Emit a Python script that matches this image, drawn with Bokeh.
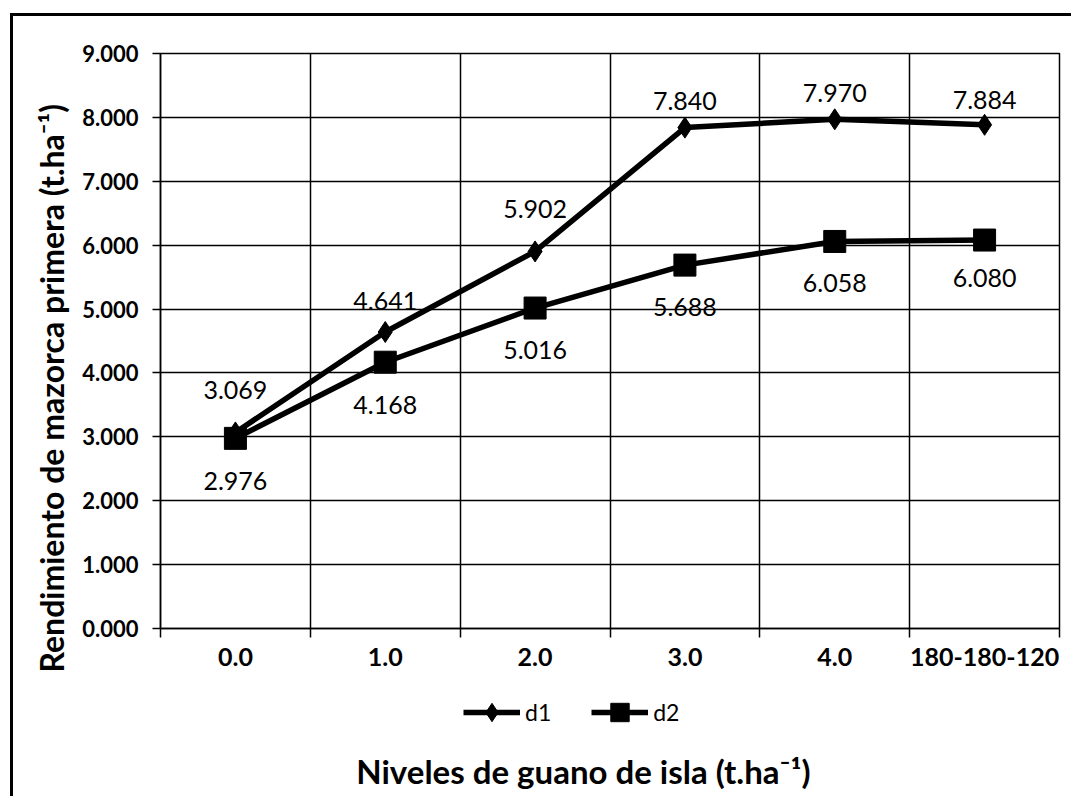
import numpy as np
from bokeh.plotting import figure
from bokeh.layouts import column
from bokeh.models import (FixedTicker, LinearAxis, Range1d, ColumnDataSource, LabelSet, Label,
                          Legend, LegendItem, NumeralTickFormatter, Grid, Title)
from bokeh.core.properties import value
from bokeh.embed import file_html
from bokeh.resources import INLINE

# ---- data ----
categories = ["0.0", "1.0", "2.0", "3.0", "4.0", "180-180-120"]
d1 = [3.069, 4.641, 5.902, 7.840, 7.970, 7.884]
d2 = [2.976, 4.168, 5.016, 5.688, 6.058, 6.080]
d1_labels = ["3.069", "4.641", "5.902", "7.840", "7.970", "7.884"]
d2_labels = ["2.976", "4.168", "5.016", "5.688", "6.058", "6.080"]
series_names = ["d1", "d2"]
y_ticks = [0, 1, 2, 3, 4, 5, 6, 7, 8, 9]
x_title = "Niveles de guano de isla (t.ha\u207b\u00b9)"
y_title = "Rendimiento de mazorca primera (t.ha\u207b\u00b9)"

# label placement (screen px offsets, styling only)
d1_dy = [42, 31, 42, 27, 26, 25]
d2_dy = [-43, -43, -42, -42, -42, -38]

n = len(categories)
xc = [i + 0.5 for i in range(n)]
bounds = list(range(n + 1))

FONT = "Lato"
W = 1058

p = figure(width=W, height=664, x_range=Range1d(0, n), y_range=Range1d(0, 9),
           output_backend="svg", toolbar_location=None,
           x_axis_type=None, y_axis_type=None,
           min_border_left=147, min_border_right=12, min_border_top=37, min_border_bottom=52)
p.outline_line_color = "black"
p.outline_line_width = 1.5
p.background_fill_color = "white"
p.border_fill_color = "white"

# grids
p.add_layout(Grid(dimension=0, ticker=FixedTicker(ticks=bounds), grid_line_color="black", grid_line_width=1.5))
p.add_layout(Grid(dimension=1, ticker=FixedTicker(ticks=y_ticks), grid_line_color="black", grid_line_width=1.5))

# y axis
yaxis = LinearAxis(ticker=FixedTicker(ticks=y_ticks), formatter=NumeralTickFormatter(format="0.000"))
yaxis.major_label_text_font = FONT
yaxis.major_label_text_font_size = "22px"
yaxis.major_label_text_font_style = "bold"
yaxis.major_label_text_color = "black"
yaxis.major_tick_out = 8
yaxis.major_tick_in = 0
yaxis.major_tick_line_width = 1.5
yaxis.minor_tick_line_color = None
yaxis.axis_line_width = 1.5
yaxis.major_label_standoff = 14
p.add_layout(yaxis, "left")

# x axis
xaxis = LinearAxis(ticker=FixedTicker(ticks=xc, minor_ticks=bounds),
                   major_label_overrides={xc[i]: categories[i] for i in range(n)})
xaxis.major_label_text_font = FONT
xaxis.major_label_text_font_size = "25px"
xaxis.major_label_text_font_style = "bold"
xaxis.major_label_text_color = "black"
xaxis.major_tick_line_color = None
xaxis.major_tick_out = 0
xaxis.major_tick_in = 0
xaxis.minor_tick_out = 9
xaxis.minor_tick_in = 0
xaxis.minor_tick_line_width = 1.5
xaxis.minor_tick_line_color = "black"
xaxis.axis_line_width = 1.5
xaxis.major_label_standoff = 10
p.add_layout(xaxis, "below")

# series
p.line(xc, d1, line_width=5.5, color="black")
p.scatter(xc, d1, marker="diamond", size=21, color="black")
p.line(xc, d2, line_width=5.5, color="black")
p.scatter(xc, d2, marker="square", size=22, color="black")

# data labels
src1 = ColumnDataSource(dict(x=xc, y=d1, t=d1_labels, dy=d1_dy))
src2 = ColumnDataSource(dict(x=xc, y=d2, t=d2_labels, dy=d2_dy))
for src in (src1, src2):
    p.add_layout(LabelSet(x="x", y="y", text="t", y_offset="dy", source=src,
                          text_align="center", text_baseline="middle",
                          text_font=value(FONT), text_font_size=value("25px"),
                          text_color="black"))

# y axis title
yt = Title(text=y_title, align="left", offset=-44, vertical_align="middle", standoff=15,
           text_font=FONT, text_font_size="32px", text_font_style="bold", text_color="black")
p.add_layout(yt, "left")

# ---- lower strip: legend and x axis title (frame aligned with the plot above) ----
H2 = 116
TOP = -200  # strip's y range ends well below the series values, so they stay out of view
p2 = figure(width=W, height=H2, x_range=Range1d(0, n), y_range=Range1d(TOP - H2, TOP),
            output_backend="svg", toolbar_location=None,
            x_axis_type=None, y_axis_type=None, min_border=0)
p2.outline_line_color = None
p2.background_fill_color = "white"
p2.border_fill_color = "white"

# same series, lying outside this strip's range: they only feed the legend swatches
l1 = p2.line(xc, d1, line_width=5.5, color="black")
m1 = p2.scatter(xc, d1, marker="diamond", size=21, color="black")
l2 = p2.line(xc, d2, line_width=5.5, color="black")
m2 = p2.scatter(xc, d2, marker="square", size=22, color="black")

legend = Legend(items=[LegendItem(label=series_names[0], renderers=[l1, m1]),
                       LegendItem(label=series_names[1], renderers=[l2, m2])],
                orientation="horizontal", location=(303, 61),
                glyph_width=57, glyph_height=46, label_standoff=5, spacing=40,
                padding=0, margin=0, border_line_alpha=0, background_fill_alpha=0,
                label_text_font=FONT, label_text_font_size="23px", label_text_color="black")
p2.add_layout(legend, "center")

p2.add_layout(Label(x=2.823, y=TOP - 90, text=x_title, text_align="center", text_baseline="middle",
                    text_font=FONT, text_font_size="33px", text_font_style="bold",
                    text_color="black"))

layout = column(p, p2, spacing=0,
                styles={"margin-left": "10px", "margin-top": "13px",
                        "border-left": "3px solid black", "border-top": "3px solid black"})

open("out.html", "w").write(file_html(layout, INLINE))
